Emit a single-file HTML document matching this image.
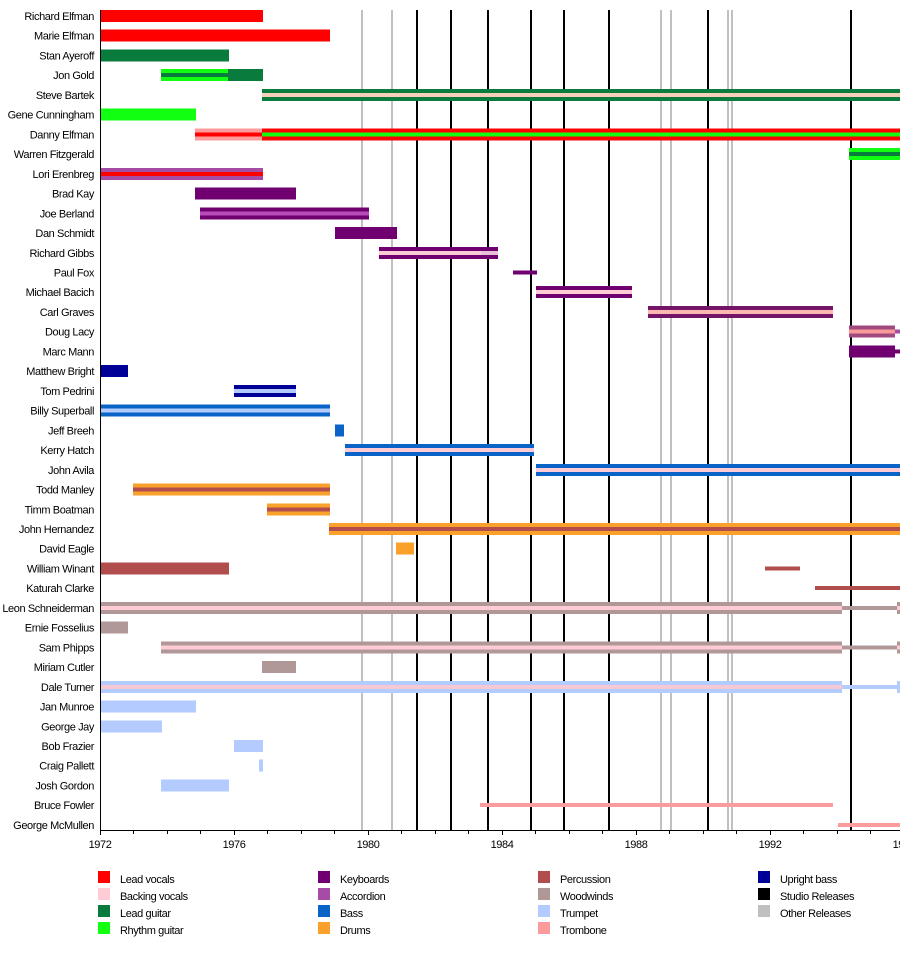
<!DOCTYPE html>
<html><head><meta charset="utf-8"><style>
html,body{margin:0;padding:0;background:#fff;}
svg{display:block;}
text{font-family:"Liberation Sans",Arial,sans-serif;font-size:11px;letter-spacing:-0.4px;fill:#000;}
</style></head><body>
<svg width="900" height="954" viewBox="0 0 900 954" xmlns="http://www.w3.org/2000/svg" shape-rendering="crispEdges">
<rect width="900" height="954" fill="#fff"/>
<!-- release lines -->
<g fill="#c0c0c0">
<rect x="361" y="10" width="2" height="820"/>
<rect x="391" y="10" width="2" height="820"/>
<rect x="660" y="10" width="2" height="820"/>
<rect x="670" y="10" width="2" height="820"/>
<rect x="727" y="10" width="2" height="820"/>
<rect x="731" y="10" width="2" height="820"/>
</g>
<g fill="#000">
<rect x="416" y="10" width="2" height="820"/>
<rect x="450" y="10" width="2" height="820"/>
<rect x="487" y="10" width="2" height="820"/>
<rect x="530" y="10" width="2" height="820"/>
<rect x="563" y="10" width="2" height="820"/>
<rect x="608" y="10" width="2" height="820"/>
<rect x="707" y="10" width="2" height="820"/>
<rect x="850" y="10" width="2" height="820"/>
</g>
<!-- bars -->
<!-- 0 Richard Elfman -->
<rect x="100" y="10" width="163" height="12" fill="#ff0000"/>
<!-- 1 Marie Elfman -->
<rect x="100" y="29.7" width="230" height="12" fill="#ff0000"/>
<!-- 2 Stan Ayeroff -->
<rect x="100" y="49.5" width="129" height="12" fill="#097b3c"/>
<!-- 3 Jon Gold -->
<rect x="161" y="69.2" width="67" height="12" fill="#11ff11"/>
<rect x="161" y="73.2" width="67" height="4" fill="#097b3c"/>
<rect x="228" y="69.2" width="35" height="12" fill="#097b3c"/>
<!-- 4 Steve Bartek -->
<rect x="262" y="88.9" width="638" height="12" fill="#097b3c"/>
<rect x="262" y="92.9" width="638" height="4" fill="#f5cfb9"/>
<!-- 5 Gene Cunningham -->
<rect x="100" y="108.6" width="96" height="12" fill="#11ff11"/>
<!-- 6 Danny Elfman -->
<rect x="195" y="128.4" width="67" height="12" fill="#fc9b9b"/>
<rect x="195" y="132.4" width="67" height="4" fill="#ff0000"/>
<rect x="262" y="128.4" width="638" height="12" fill="#ff0000"/>
<rect x="262" y="132.4" width="638" height="4" fill="#11ff11"/>
<!-- 7 Warren Fitzgerald -->
<rect x="849" y="148.1" width="51" height="12" fill="#11ff11"/>
<rect x="849" y="152.1" width="51" height="4" fill="#097b3c"/>
<!-- 8 Lori Erenbreg -->
<rect x="100" y="167.8" width="163" height="12" fill="#a64ca6"/>
<rect x="100" y="171.8" width="163" height="4" fill="#ff0000"/>
<!-- 9 Brad Kay -->
<rect x="195" y="187.6" width="101" height="12" fill="#700070"/>
<!-- 10 Joe Berland -->
<rect x="200" y="207.3" width="169" height="12" fill="#700070"/>
<rect x="200" y="211.3" width="169" height="4" fill="#b84cb8"/>
<!-- 11 Dan Schmidt -->
<rect x="335" y="227" width="62" height="12" fill="#700070"/>
<!-- 12 Richard Gibbs -->
<rect x="379" y="246.8" width="119" height="12" fill="#700070"/>
<rect x="379" y="250.8" width="102" height="4" fill="#ffccd5"/>
<rect x="481" y="250.8" width="17" height="4" fill="#e8c0dc"/>
<!-- 13 Paul Fox -->
<rect x="513" y="270.5" width="24" height="4" fill="#700070"/>
<!-- 14 Michael Bacich -->
<rect x="536" y="286.2" width="96" height="12" fill="#700070"/>
<rect x="536" y="290.2" width="96" height="4" fill="#ffccd5"/>
<!-- 15 Carl Graves -->
<rect x="648" y="305.9" width="185" height="12" fill="#731466"/>
<rect x="648" y="309.9" width="185" height="4" fill="#fbb8b0"/>
<!-- 16 Doug Lacy -->
<rect x="849" y="325.7" width="46" height="12" fill="#a04a80"/>
<rect x="849" y="329.7" width="46" height="4" fill="#fa9a9a"/>
<rect x="895" y="329.7" width="5" height="4" fill="#a64ca6"/>
<!-- 17 Marc Mann -->
<rect x="849" y="345.4" width="46" height="12" fill="#700070"/>
<rect x="895" y="349.4" width="5" height="4" fill="#700070"/>
<!-- 18 Matthew Bright -->
<rect x="100" y="365.1" width="28" height="12" fill="#000096"/>
<!-- 19 Tom Pedrini -->
<rect x="234" y="384.9" width="62" height="12" fill="#000096"/>
<rect x="234" y="388.9" width="62" height="4" fill="#b3cbff"/>
<!-- 20 Billy Superball -->
<rect x="100" y="404.6" width="230" height="12" fill="#0a64c8"/>
<rect x="100" y="408.6" width="230" height="4" fill="#b3cbff"/>
<!-- 21 Jeff Breeh -->
<rect x="335" y="424.3" width="9" height="12" fill="#0a64c8"/>
<!-- 22 Kerry Hatch -->
<rect x="345" y="444" width="189" height="12" fill="#0a64c8"/>
<rect x="345" y="448" width="189" height="4" fill="#ffccd5"/>
<!-- 23 John Avila -->
<rect x="536" y="463.8" width="364" height="12" fill="#0a64c8"/>
<rect x="536" y="467.8" width="364" height="4" fill="#ffccd5"/>
<!-- 24 Todd Manley -->
<rect x="133" y="483.5" width="197" height="12" fill="#f9a12b"/>
<rect x="133" y="487.5" width="197" height="4" fill="#b24d4d"/>
<!-- 25 Timm Boatman -->
<rect x="267" y="503.3" width="63" height="12" fill="#f9a12b"/>
<rect x="267" y="507.3" width="63" height="4" fill="#b24d4d"/>
<!-- 26 John Hernandez -->
<rect x="329" y="523" width="571" height="12" fill="#f9a12b"/>
<rect x="329" y="527" width="571" height="4" fill="#b24d4d"/>
<!-- 27 David Eagle -->
<rect x="396" y="542.7" width="18" height="12" fill="#f9a12b"/>
<!-- 28 William Winant -->
<rect x="100" y="562.4" width="129" height="12" fill="#b24d4d"/>
<rect x="765" y="566.4" width="35" height="4" fill="#b24d4d"/>
<!-- 29 Katurah Clarke -->
<rect x="815" y="586.2" width="85" height="4" fill="#b24d4d"/>
<!-- 30 Leon Schneiderman -->
<rect x="100" y="601.9" width="742" height="12" fill="#b09898"/>
<rect x="100" y="605.9" width="742" height="4" fill="#ffccd5"/>
<rect x="842" y="605.9" width="55" height="4" fill="#b09898"/>
<rect x="897" y="601.9" width="3" height="12" fill="#b09898"/>
<rect x="897" y="605.9" width="3" height="4" fill="#ffccd5"/>
<!-- 31 Ernie Fosselius -->
<rect x="100" y="621.6" width="28" height="12" fill="#b09898"/>
<!-- 32 Sam Phipps -->
<rect x="161" y="641.4" width="681" height="12" fill="#b09898"/>
<rect x="161" y="645.4" width="681" height="4" fill="#ffccd5"/>
<rect x="842" y="645.4" width="55" height="4" fill="#b09898"/>
<rect x="897" y="641.4" width="3" height="12" fill="#b09898"/>
<rect x="897" y="645.4" width="3" height="4" fill="#ffccd5"/>
<!-- 33 Miriam Cutler -->
<rect x="262" y="661.1" width="34" height="12" fill="#b09898"/>
<!-- 34 Dale Turner -->
<rect x="100" y="680.8" width="742" height="12" fill="#b3cbff"/>
<rect x="100" y="684.8" width="742" height="4" fill="#f5c8d4"/>
<rect x="842" y="684.8" width="55" height="4" fill="#b3cbff"/>
<rect x="897" y="680.8" width="3" height="12" fill="#b3cbff"/>
<!-- 35 Jan Munroe -->
<rect x="100" y="700.6" width="96" height="12" fill="#b3cbff"/>
<!-- 36 George Jay -->
<rect x="100" y="720.3" width="62" height="12" fill="#b3cbff"/>
<!-- 37 Bob Frazier -->
<rect x="234" y="740" width="29" height="12" fill="#b3cbff"/>
<!-- 38 Craig Pallett -->
<rect x="259" y="759.7" width="4" height="12" fill="#b3cbff"/>
<!-- 39 Josh Gordon -->
<rect x="161" y="779.5" width="68" height="12" fill="#b3cbff"/>
<!-- 40 Bruce Fowler -->
<rect x="480" y="803.2" width="353" height="4" fill="#fc9b9b"/>
<!-- 41 George McMullen -->
<rect x="838" y="822.9" width="62" height="4" fill="#fc9b9b"/>

<!-- axes -->
<rect x="100" y="10" width="1" height="821" fill="#000"/>
<rect x="100" y="830" width="800" height="1" fill="#000"/>
<g fill="#000">
<rect x="100" y="830" width="1" height="5"/>
<rect x="133" y="830" width="1" height="4"/>
<rect x="167" y="830" width="1" height="4"/>
<rect x="200" y="830" width="1" height="4"/>
<rect x="234" y="830" width="1" height="5"/>
<rect x="267" y="830" width="1" height="4"/>
<rect x="301" y="830" width="1" height="4"/>
<rect x="334" y="830" width="1" height="4"/>
<rect x="368" y="830" width="1" height="5"/>
<rect x="401" y="830" width="1" height="4"/>
<rect x="435" y="830" width="1" height="4"/>
<rect x="468" y="830" width="1" height="4"/>
<rect x="502" y="830" width="1" height="5"/>
<rect x="535" y="830" width="1" height="4"/>
<rect x="569" y="830" width="1" height="4"/>
<rect x="602" y="830" width="1" height="4"/>
<rect x="636" y="830" width="1" height="5"/>
<rect x="669" y="830" width="1" height="4"/>
<rect x="703" y="830" width="1" height="4"/>
<rect x="736" y="830" width="1" height="4"/>
<rect x="770" y="830" width="1" height="5"/>
<rect x="803" y="830" width="1" height="4"/>
<rect x="837" y="830" width="1" height="4"/>
<rect x="870" y="830" width="1" height="4"/>
</g>
<g text-anchor="middle">
<text x="100" y="848">1972</text>
<text x="234" y="848">1976</text>
<text x="368" y="848">1980</text>
<text x="502" y="848">1984</text>
<text x="636" y="848">1988</text>
<text x="770" y="848">1992</text>
<text x="904" y="848">1996</text>
</g>

<!-- names -->
<g text-anchor="end">
<text x="94" y="20">Richard Elfman</text>
<text x="94" y="39.7">Marie Elfman</text>
<text x="94" y="59.5">Stan Ayeroff</text>
<text x="94" y="79.2">Jon Gold</text>
<text x="94" y="98.9">Steve Bartek</text>
<text x="94" y="118.6">Gene Cunningham</text>
<text x="94" y="138.4">Danny Elfman</text>
<text x="94" y="158.1">Warren Fitzgerald</text>
<text x="94" y="177.8">Lori Erenbreg</text>
<text x="94" y="197.6">Brad Kay</text>
<text x="94" y="217.3">Joe Berland</text>
<text x="94" y="237">Dan Schmidt</text>
<text x="94" y="256.8">Richard Gibbs</text>
<text x="94" y="276.5">Paul Fox</text>
<text x="94" y="296.2">Michael Bacich</text>
<text x="94" y="315.9">Carl Graves</text>
<text x="94" y="335.7">Doug Lacy</text>
<text x="94" y="355.4">Marc Mann</text>
<text x="94" y="375.1">Matthew Bright</text>
<text x="94" y="394.9">Tom Pedrini</text>
<text x="94" y="414.6">Billy Superball</text>
<text x="94" y="434.3">Jeff Breeh</text>
<text x="94" y="454">Kerry Hatch</text>
<text x="94" y="473.8">John Avila</text>
<text x="94" y="493.5">Todd Manley</text>
<text x="94" y="513.3">Timm Boatman</text>
<text x="94" y="533">John Hernandez</text>
<text x="94" y="552.7">David Eagle</text>
<text x="94" y="572.4">William Winant</text>
<text x="94" y="592.2">Katurah Clarke</text>
<text x="94" y="611.9">Leon Schneiderman</text>
<text x="94" y="631.6">Ernie Fosselius</text>
<text x="94" y="651.4">Sam Phipps</text>
<text x="94" y="671.1">Miriam Cutler</text>
<text x="94" y="690.8">Dale Turner</text>
<text x="94" y="710.6">Jan Munroe</text>
<text x="94" y="730.3">George Jay</text>
<text x="94" y="750">Bob Frazier</text>
<text x="94" y="769.7">Craig Pallett</text>
<text x="94" y="789.5">Josh Gordon</text>
<text x="94" y="809.2">Bruce Fowler</text>
<text x="94" y="828.9">George McMullen</text>
</g>

<!-- legend -->
<rect x="98" y="871" width="12" height="12" fill="#ff0000"/>
<rect x="98" y="888" width="12" height="12" fill="#ffccd5"/>
<rect x="98" y="905" width="12" height="12" fill="#097b3c"/>
<rect x="98" y="922" width="12" height="12" fill="#11ff11"/>
<text x="120" y="883">Lead vocals</text>
<text x="120" y="900">Backing vocals</text>
<text x="120" y="917">Lead guitar</text>
<text x="120" y="934">Rhythm guitar</text>

<rect x="318" y="871" width="12" height="12" fill="#700070"/>
<rect x="318" y="888" width="12" height="12" fill="#a64ca6"/>
<rect x="318" y="905" width="12" height="12" fill="#0a64c8"/>
<rect x="318" y="922" width="12" height="12" fill="#f9a12b"/>
<text x="340" y="883">Keyboards</text>
<text x="340" y="900">Accordion</text>
<text x="340" y="917">Bass</text>
<text x="340" y="934">Drums</text>

<rect x="538" y="871" width="12" height="12" fill="#b24d4d"/>
<rect x="538" y="888" width="12" height="12" fill="#b09898"/>
<rect x="538" y="905" width="12" height="12" fill="#b3cbff"/>
<rect x="538" y="922" width="12" height="12" fill="#fc9b9b"/>
<text x="560" y="883">Percussion</text>
<text x="560" y="900">Woodwinds</text>
<text x="560" y="917">Trumpet</text>
<text x="560" y="934">Trombone</text>

<rect x="758" y="871" width="12" height="12" fill="#000096"/>
<rect x="758" y="888" width="12" height="12" fill="#000000"/>
<rect x="758" y="905" width="12" height="12" fill="#c0c0c0"/>
<text x="780" y="883">Upright bass</text>
<text x="780" y="900">Studio Releases</text>
<text x="780" y="917">Other Releases</text>
</svg>
</body></html>
